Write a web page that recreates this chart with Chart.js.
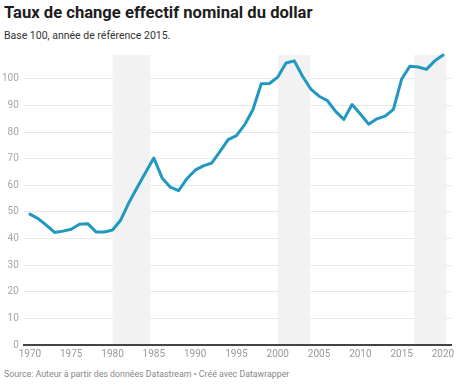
<!DOCTYPE html>
<html>
<head>
<meta charset="utf-8">
<script src="https://cdn.jsdelivr.net/npm/chart.js@4/dist/chart.umd.min.js"></script>
<style>
    body { margin: 0; background: #fff; font-family: Roboto, sans-serif; }
    #wrap { position: relative; width: 460px; height: 385px; overflow: hidden; }
    #titre { position: absolute; left: 4px; top: 3px; font-size: 16.6px; font-weight: bold; color: #1d1d1d; white-space: nowrap; }
    #sous_titre { position: absolute; left: 4px; top: 29px; font-size: 10.5px; color: #333; white-space: nowrap; }
    #source { position: absolute; left: 4px; top: 369px; font-size: 8.8px; color: #888; white-space: nowrap; }
    #zone { position: absolute; left: 0; top: 43px; width: 460px; height: 325px; }
</style>
</head>
<body>
<div id="wrap">
    <div id="titre">Taux de change effectif nominal du dollar</div>
    <div id="sous_titre">Base 100, année de référence 2015.</div>
    <div id="zone"><canvas id="dataDollar"></canvas></div>
    <div id="source">Source: Auteur à partir des données Datastream • Créé avec Datawrapper</div>
</div>
<script>
// donnees
const annees = [1970, 1971, 1972, 1973, 1974, 1975, 1976, 1977, 1978, 1979,
    1980, 1981, 1982, 1983, 1984, 1985, 1986, 1987, 1988, 1989,
    1990, 1991, 1992, 1993, 1994, 1995, 1996, 1997, 1998, 1999,
    2000, 2001, 2002, 2003, 2004, 2005, 2006, 2007, 2008, 2009,
    2010, 2011, 2012, 2013, 2014, 2015, 2016, 2017, 2018, 2019, 2020];
const tauxChange = [49.2, 47.5, 45.0, 42.3, 42.8, 43.5, 45.4, 45.6, 42.5, 42.5,
    43.2, 47.0, 53.6, 59.3, 64.8, 70.3, 62.8, 59.3, 58.0, 62.5,
    65.7, 67.3, 68.4, 72.7, 77.2, 78.7, 82.8, 88.5, 98.2, 98.3,
    100.7, 106.0, 106.8, 101.0, 96.2, 93.5, 91.9, 87.8, 84.8, 90.4,
    86.8, 83.0, 85.0, 86.0, 88.6, 100.0, 104.8, 104.5, 103.6, 106.8, 109.0];
const periodesGrisees = [[1980, 1984.6], [2000, 2003.9], [2016.5, 2020.4]];
const ticksX = [1970, 1975, 1980, 1985, 1990, 1995, 2000, 2005, 2010, 2015, 2020];
const ticksY = [0, 10, 20, 30, 40, 50, 60, 70, 80, 90, 100];

const bandes = {
    id: 'bandes',
    beforeDatasetsDraw(chart) {
        let ctx = chart.ctx;
        let zone = chart.chartArea;
        let x = chart.scales.x;
        ctx.save();
        ctx.fillStyle = '#f2f2f2';
        periodesGrisees.forEach(function (p) {
            let x1 = x.getPixelForValue(p[0]);
            let x2 = x.getPixelForValue(p[1]);
            ctx.fillRect(x1, zone.top, x2 - x1, zone.bottom - zone.top - 1);
        });
        ctx.restore();
    }
};

let cvs = document.getElementById('dataDollar').getContext('2d');
let graphe = new Chart(cvs, {
    type: 'line',
    data: {
        datasets: [{
            label: "Taux de change effectif nominal",
            data: annees.map((a, i) => ({x: a, y: tauxChange[i]})),
            borderColor: "rgb(33, 152, 192)",
            borderWidth: 3,
            pointRadius: 0,
            tension: 0,
            clip: false,
            borderJoinStyle: 'round',
            borderCapStyle: 'round'
        }]
    },
    options: {
        responsive: true,
        maintainAspectRatio: false,
        animation: false,
        layout: { padding: { top: 12, right: 9, bottom: 5, left: -3 } },
        plugins: { legend: { display: false }, tooltip: { enabled: false } },
        scales: {
            x: {
                type: 'linear',
                min: 1969.27,
                max: 2020.97,
                afterBuildTicks: function (axis) { axis.ticks = ticksX.map(v => ({value: v})); },
                grid: { display: false, drawTicks: false },
                border: { display: true, color: '#444', width: 2 },
                ticks: {
                    autoSkip: false, maxRotation: 0, padding: 3,
                    color: '#999', font: { family: 'Roboto', size: 10 },
                    callback: v => String(v)
                }
            },
            y: {
                min: 0,
                max: 109,
                afterBuildTicks: function (axis) { axis.ticks = ticksY.map(v => ({value: v})); },
                grid: { color: '#e8e8e8', lineWidth: 1, drawTicks: false },
                border: { display: false },
                ticks: {
                    padding: 5, color: '#a6a6a6',
                    font: { family: 'Roboto', size: 10 }
                }
            }
        }
    },
    plugins: [bandes]
});
</script>
</body>
</html>
